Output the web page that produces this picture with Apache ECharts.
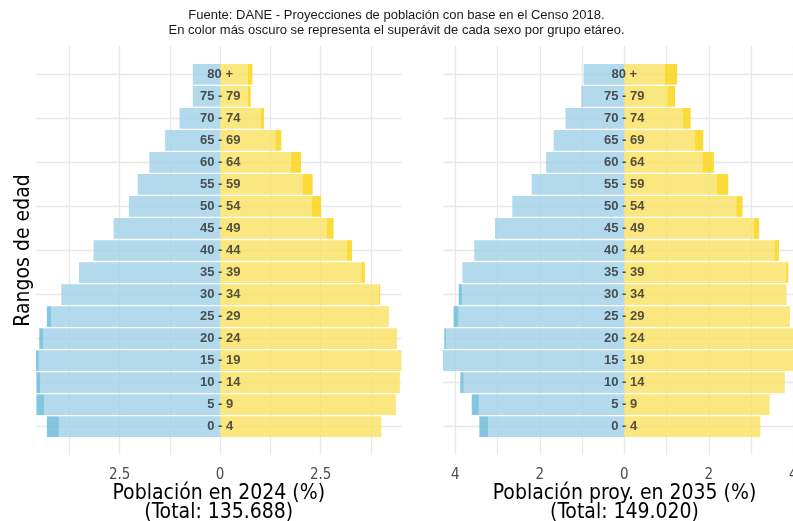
<!DOCTYPE html>
<html>
<head>
<meta charset="utf-8">
<script src="https://cdn.jsdelivr.net/npm/echarts@6/dist/echarts.min.js"></script>
<style>
  html, body { margin: 0; padding: 0; background: #fff; }
  #main { width: 793px; height: 521px; }
</style>
</head>
<body>
<div id="main"></div>
<script>
// grupos de edad, de abajo (0 - 4) hacia arriba (80 +)
var ageGroups = ['0 - 4', '5 - 9', '10 - 14', '15 - 19', '20 - 24', '25 - 29', '30 - 34', '35 - 39',
                 '40 - 44', '45 - 49', '50 - 54', '55 - 59', '60 - 64', '65 - 69', '70 - 74', '75 - 79', '80 +'];

// % de la poblacion total, 2024
var male2024   = [4.31, 4.57, 4.57, 4.58, 4.50, 4.31, 3.95, 3.51, 3.15, 2.65, 2.27, 2.05, 1.76, 1.37, 1.01, 0.68, 0.68];
var female2024 = [4.01, 4.37, 4.47, 4.51, 4.40, 4.20, 3.98, 3.60, 3.28, 2.82, 2.51, 2.30, 2.01, 1.52, 1.09, 0.76, 0.80];

// % de la poblacion total, proyeccion 2035
var male2035   = [3.43, 3.61, 3.88, 4.29, 4.26, 4.04, 3.92, 3.83, 3.55, 3.06, 2.65, 2.19, 1.85, 1.67, 1.39, 1.02, 0.96];
var female2035 = [3.22, 3.44, 3.80, 4.30, 4.22, 3.92, 3.84, 3.88, 3.66, 3.19, 2.80, 2.46, 2.12, 1.87, 1.57, 1.20, 1.25];

// etiquetas del eje x y lineas de la grilla
var ticks2024 = [-2.5, 0, 2.5];
var ticks2035 = [-4, -2, 0, 2, 4];
var vlines2024 = [-3.75, -2.5, -1.25, 0, 1.25, 2.5, 3.75];
var vlines2035 = [-4, -3, -2, -1, 0, 1, 2, 3, 4];
var hlines = [0, 2, 4, 6, 8, 10, 12, 14, 16];

var titles = ['Población en 2024 (%)\n(Total: 135.688)', 'Población proy. en 2035 (%)\n(Total: 149.020)'];

var COLORS = {
  maleLight: 'rgba(160,208,232,0.8)',
  maleDark: 'rgba(110,188,220,0.85)',
  femLight: 'rgba(250,225,95,0.8)',
  femDark: 'rgba(250,213,20,0.85)'
};
var GRID_COLOR = '#e8e8e8';
var AXIS_FONT = "'DejaVu Sans Condensed', 'DejaVu Sans', sans-serif";

/*
 * dibuja una fila de la piramide: parte comun en color claro, superavit en oscuro
 * */
function renderRow(params, api) {
  var i = api.value(0), m = api.value(1), f = api.value(2);
  var lo = Math.min(m, f);
  var h = api.size([0, 1])[1] * 0.94;
  var cy = api.coord([0, i])[1];
  function rect(a, b, color) {
    var p1 = api.coord([a, i]), p2 = api.coord([b, i]);
    return {
      type: 'rect',
      shape: { x: Math.min(p1[0], p2[0]), y: cy - h / 2, width: Math.abs(p2[0] - p1[0]), height: h },
      style: { fill: color }
    };
  }
  var children = [rect(-lo, 0, COLORS.maleLight), rect(0, lo, COLORS.femLight)];
  if (m > f) children.push(rect(-m, -lo, COLORS.maleDark));
  if (f > m) children.push(rect(lo, f, COLORS.femDark));
  return { type: 'group', children: children };
}

function buildPanel(idx, male, female, ticks, vlines) {
  var rows = [], marks = [];
  for (var i = 0; i < ageGroups.length; i++) {
    rows.push([i, male[i], female[i]]);
    marks.push([0, i]);
  }
  var lines = [];
  vlines.forEach(function (v) { lines.push({ xAxis: v }); });
  hlines.forEach(function (v) { lines.push({ yAxis: v }); });

  return [
    {
      type: 'custom',
      xAxisIndex: idx, yAxisIndex: idx,
      z: 10,
      encode: { x: 1, y: 0 },
      renderItem: renderRow,
      data: rows,
      silent: true
    },
    {
      type: 'scatter',
      xAxisIndex: idx, yAxisIndex: idx,
      z: 20,
      symbolSize: 1,
      itemStyle: { color: 'rgba(0,0,0,0)' },
      silent: true,
      label: {
        show: true,
        position: 'inside',
        formatter: function (p) { return ageGroups[p.dataIndex]; },
        fontFamily: "'Liberation Sans', Arial, sans-serif",
        fontSize: 13,
        fontWeight: 'bold',
        color: '#2a2a2a'
      },
      data: marks,
      markLine: {
        silent: true,
        z: 1,
        symbol: 'none',
        label: { show: false },
        lineStyle: { color: GRID_COLOR, width: 1.3, type: 'solid' },
        emphasis: { disabled: true },
        data: lines
      }
    }
  ];
}

function xAxisFor(idx, min, max, ticks) {
  return {
    type: 'value',
    gridIndex: idx,
    min: min, max: max,
    axisLine: { show: false },
    axisTick: { show: false },
    splitLine: { show: false },
    axisLabel: {
      customValues: ticks,
      formatter: function (v) { return String(Math.abs(v)); },
      fontFamily: AXIS_FONT,
      fontSize: 15,
      color: '#4d4d4d',
      margin: 13
    },
    name: titles[idx],
    nameLocation: 'middle',
    nameGap: 29,
    nameMoveOverlap: false,
    nameTextStyle: { fontFamily: AXIS_FONT, fontSize: 21, lineHeight: 19, color: '#000' }
  };
}

function yAxisFor(idx) {
  return {
    type: 'value',
    gridIndex: idx,
    min: -1.285, max: 17.285,
    axisLine: { show: false },
    axisTick: { show: false },
    axisLabel: { show: false },
    splitLine: { show: false },
    name: idx === 0 ? 'Rangos de edad' : '',
    nameLocation: 'middle',
    nameRotate: 90,
    nameGap: 2,
    nameMoveOverlap: false,
    nameTextStyle: { fontFamily: AXIS_FONT, fontSize: 21, color: '#000' }
  };
}

var myChart = echarts.init(document.getElementById('main'));
var option = {
  animation: false,
  backgroundColor: '#fff',
  title: {
    text: 'Fuente: DANE - Proyecciones de población con base en el Censo 2018.\nEn color más oscuro se representa el superávit de cada sexo por grupo etáreo.',
    left: 'center',
    top: 8,
    padding: 0,
    textStyle: {
      fontFamily: "'Liberation Sans', Arial, sans-serif",
      fontSize: 13,
      fontWeight: 'normal',
      lineHeight: 15,
      color: '#1a1a1a'
    }
  },
  grid: [
    { left: 36, top: 46, width: 365.5, height: 409, outerBoundsMode: 'none' },
    { left: 443, top: 46, width: 363, height: 409, outerBoundsMode: 'none' }
  ],
  xAxis: [
    xAxisFor(0, -4.58, 4.51, ticks2024),
    xAxisFor(1, -4.29, 4.30, ticks2035)
  ],
  yAxis: [yAxisFor(0), yAxisFor(1)],
  series: buildPanel(0, male2024, female2024, ticks2024, vlines2024)
    .concat(buildPanel(1, male2035, female2035, ticks2035, vlines2035))
};
myChart.setOption(option);
</script>
</body>
</html>
